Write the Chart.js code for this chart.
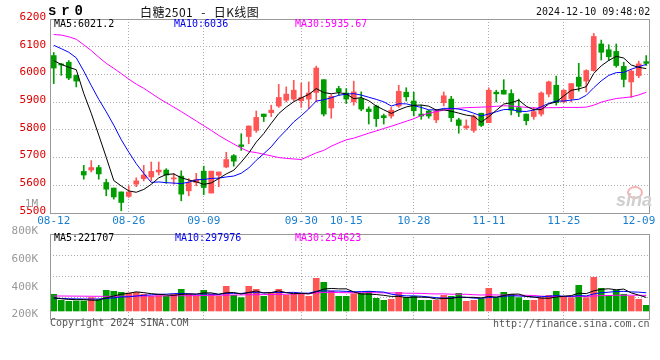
<!DOCTYPE html>
<html><head><meta charset="utf-8">
<script src="https://cdn.jsdelivr.net/npm/chart.js@4.4.1/dist/chart.umd.min.js"></script>
<style>
html,body{margin:0;padding:0;background:#fff;}
#wrap{position:relative;width:660px;height:360px;overflow:hidden;}
canvas{position:absolute;left:0;}
.t{position:absolute;white-space:pre;font-family:"DejaVu Sans Mono",monospace;font-size:10px;line-height:12px;z-index:5;}
</style></head><body>
<div id="wrap">
<canvas id="price" width="660" height="232" style="top:0"></canvas>
<canvas id="vol" width="660" height="140" style="top:190px"></canvas>
<div class="t" style="left:48px;top:3px;font-family:'Liberation Mono',monospace;font-weight:bold;font-size:14px;line-height:16px;letter-spacing:-1.8px;">s r 0</div>
<div class="t" style="left:140px;top:4px;font-family:'Noto Sans CJK SC',sans-serif;font-size:12px;line-height:16px;letter-spacing:0.4px;word-spacing:5px;color:#111;">白糖2501 - 日K线图</div>
<div class="t" style="left:536px;top:6px;color:#111;">2024-12-10 09:48:02</div>
<div class="t" style="left:54px;top:18px;color:#000;">MA5:6021.2</div>
<div class="t" style="left:174px;top:18px;color:#0000ee;">MA10:6036</div>
<div class="t" style="left:295px;top:18px;color:#ff00ff;">MA30:5935.67</div>
<div class="t" style="left:54px;top:232px;color:#000;">MA5:221707</div>
<div class="t" style="left:175px;top:232px;color:#0000ee;">MA10:297976</div>
<div class="t" style="left:295px;top:232px;color:#ff00ff;">MA30:254623</div>
<div class="t" style="left:50px;top:317px;color:#555;">Copyright 2024 SINA.COM</div>
<div class="t" style="left:493px;top:318px;color:#555;">http://finance.sina.com.cn</div>
<div style="position:absolute;left:627px;top:186px;width:12px;height:9px;border:2px solid #f4b4b4;border-radius:50%;z-index:4;"></div>
<div class="t" style="left:616px;top:191px;font-family:'Liberation Sans',sans-serif;font-style:italic;font-weight:bold;font-size:18px;line-height:18px;color:#cfcfcf;z-index:4;">sina</div>
</div>
<script>
const dates = ['08-12','08-13','08-14','08-15','08-16','08-19','08-20','08-21','08-22','08-23','08-26','08-27','08-28','08-29','08-30',
'09-02','09-03','09-04','09-05','09-06','09-09','09-10','09-11','09-12','09-13','09-18','09-19','09-20','09-23','09-24','09-25','09-26','09-27','09-30',
'10-08','10-09','10-10','10-11','10-14','10-15','10-16','10-17','10-18','10-21','10-22','10-23','10-24','10-25','10-28','10-29','10-30','10-31',
'11-01','11-04','11-05','11-06','11-07','11-08','11-11','11-12','11-13','11-14','11-15','11-18','11-19','11-20','11-21','11-22','11-25','11-26','11-27','11-28','11-29',
'12-02','12-03','12-04','12-05','12-06','12-09','12-10'];
const keyDates = ['08-12','08-26','09-09','09-30','10-15','10-28','11-11','11-25','12-09'];

const openP = [6068,6037,6044,5996,5650,5655,5664,5610,5590,5576,
5560,5604,5624,5630,5648,5655,5623,5633,5580,5610,
5651,5572,5636,5666,5707,5746,5776,5798,5857,5862,
5886,5907,5911,5905,5911,5935,5981,5879,5949,5933,
5901,5913,5875,5886,5851,5850,5886,5936,5904,5857,
5868,5836,5898,5911,5836,5807,5798,5860,5826,5936,
5943,5931,5880,5857,5848,5857,5929,5961,5901,5913,
5990,5976,6014,6110,6089,6083,6029,5973,5996,6046];
const highP = [6079,6040,6050,5998,5672,5689,5672,5622,5590,5576,
5598,5627,5672,5684,5684,5660,5643,5652,5624,5643,
5669,5651,5648,5719,5711,5786,5814,5868,5857,5889,
5964,5955,5979,5969,5973,6030,5981,5927,5957,5949,
5976,5937,5883,5889,5857,5881,5961,5952,5936,5889,
5871,5874,5937,5921,5842,5836,5854,5860,5952,5943,
5981,5945,5911,5857,5881,5937,5976,5994,5945,5967,
6040,6017,6148,6124,6107,6110,6044,6017,6048,6068];
const lowP = [5967,5997,5981,5955,5622,5648,5622,5562,5550,5508,
5556,5595,5616,5616,5637,5607,5604,5544,5562,5598,
5566,5572,5595,5663,5669,5726,5750,5791,5830,5848,
5881,5901,5905,5881,5877,5901,5850,5842,5925,5895,
5889,5869,5821,5812,5821,5842,5881,5904,5850,5838,
5842,5826,5886,5830,5788,5802,5791,5812,5826,5901,
5929,5854,5848,5818,5838,5850,5919,5889,5898,5901,
5940,5937,6012,6052,6050,6026,5955,5917,5988,6032];
const closeP = [6023,6034,5987,5976,5637,5664,5641,5586,5558,5538,
5576,5616,5637,5650,5655,5637,5626,5568,5610,5621,
5592,5651,5648,5693,5687,5740,5814,5845,5848,5871,
5917,5929,5943,5917,5933,6023,5857,5921,5937,5911,
5937,5875,5866,5840,5844,5871,5939,5919,5869,5850,
5850,5869,5923,5844,5816,5814,5848,5816,5943,5930,
5929,5871,5863,5833,5866,5933,5973,5898,5943,5967,
5957,6014,6137,6080,6064,6032,5982,6012,6038,6040];

const ma5 = [6050,6036,6026,6017,5931.4,5859.6,5781,5700.8,5617.2,5597.4,
5579.8,5574.8,5585,5603.4,5626.8,5639,5641,5627.2,5619.2,5612.4,
5603.4,5608.4,5624.4,5641,5654.2,5683.8,5716.4,5755.8,5786.8,5823.6,
5859,5882,5901.6,5915.4,5927.8,5949,5934.6,5930.2,5934.2,5929.8,
5912.6,5916.2,5905.2,5885.8,5872.4,5859.2,5872,5882.6,5888.4,5889.6,
5885.4,5871.4,5872.2,5867.2,5860.4,5853.2,5849,5827.6,5847.4,5870.2,
5893.2,5897.8,5907.2,5885.2,5872.4,5873.2,5893.6,5900.6,5922.6,5942.8,
5947.6,5955.8,6003.6,6031,6050.4,6065.4,6059,6034,6025.6,6021.2];
const ma10 = [6105,6093,6080,6060,6012,5960,5910,5865,5817,5764.4,
5719.7,5677.9,5642.9,5610.3,5612.1,5609.4,5607.9,5606.1,5611.3,5619.6,
5621.2,5624.7,5625.8,5630.1,5633.3,5643.6,5662.4,5690.1,5713.9,5738.9,
5771.4,5799.2,5828.7,5851.1,5875.7,5904,5908.3,5915.9,5924.8,5928.8,
5930.8,5925.4,5917.7,5910,5901.1,5885.9,5894.1,5893.9,5887.1,5881,
5872.3,5871.7,5877.4,5877.8,5875,5869.3,5860.2,5849.9,5857.3,5865.3,
5873.2,5873.4,5867.4,5866.3,5871.3,5883.2,5895.7,5903.9,5903.9,5907.6,
5910.4,5924.7,5952.1,5976.8,5996.6,6006.5,6007.4,6018.8,6028.3,6036];
const ma30 = [6144,6142,6136,6127,6107,6086,6062,6040,6022,6003,
5983,5965,5950,5932,5914,5898,5882,5866,5849,5832,
5815,5798,5780,5764,5749,5734,5722,5718,5712,5706,
5700,5697,5695,5693,5705,5717,5726,5741,5753,5764,
5770,5779,5788,5796,5805,5813,5822,5831,5840,5852,
5860,5866,5871,5875,5878,5880,5881,5882,5883,5885,
5887,5886,5884,5881,5879,5879,5880,5880,5881,5881,
5881,5882,5889,5900,5907,5913,5916,5919,5926,5935.67];

const volume = [273,174,158,164,164,218,185,338,322,305,
294,305,273,240,251,240,273,354,273,240,
338,273,240,403,256,218,403,354,240,294,
354,256,273,273,240,534,469,327,240,240,
283,294,322,207,174,191,305,218,240,174,
174,174,256,240,289,158,174,202,371,218,
305,273,218,174,174,218,256,322,240,218,
420,218,550,371,256,338,273,240,191,93];
const vma5 = [215,200,190,185,187,176,178,214,245,274,
289,313,300,283,273,262,255,272,278,276,
296,296,273,299,302,278,304,327,294,302,
329,300,283,290,279,315,358,369,362,362,
312,277,276,269,256,238,240,219,226,226,
222,196,204,204,227,223,223,213,239,225,
254,274,277,238,229,211,208,229,242,251,
291,284,329,355,363,347,358,296,260,222];
const vma10 = [210,205,200,198,196,195,197,205,215,230,
232,245,257,264,273,275,284,286,281,274,
279,276,272,289,289,287,300,300,297,302,
304,302,305,292,291,322,329,326,326,321,
314,317,322,316,309,275,258,247,247,241,
230,218,211,215,226,223,210,208,221,226,
239,249,245,238,227,233,241,253,240,240,
251,246,279,299,307,319,321,312,308,298];
const vma30 = [245,245,244,243,242,241,240,240,240,241,
242,243,244,245,246,247,248,249,250,252,
254,256,258,260,261,263,265,266,268,269,
271,274,278,282,284,295,304,304,301,299,
299,298,300,299,296,295,296,291,290,288,
282,279,280,274,275,273,266,261,265,262,
261,261,259,256,254,243,236,236,236,235,
240,237,245,251,253,258,257,258,256,255];
const volTickValues = [200,400,600,800,1000];

const UP = '#ff5555', DOWN = '#009c00';
const colors = closeP.map((c, i) => c >= openP[i] ? UP : DOWN);
const MONO = '"DejaVu Sans Mono", monospace';
Chart.defaults.font.family = MONO;
Chart.defaults.font.size = 10;
Chart.defaults.animation = false;

const frame = { id: 'frame', afterDraw(c) {
  const { ctx, chartArea: a } = c;
  ctx.save(); ctx.strokeStyle = '#999'; ctx.lineWidth = 1; ctx.setLineDash([]);
  ctx.strokeRect(Math.round(a.left) + 0.5, Math.round(a.top) + 0.5, Math.round(a.right - a.left) - 1, Math.round(a.bottom - a.top));
  ctx.restore();
}};
const vGrid = ctx => {
  const d = dates[ctx.index];
  return (keyDates.includes(d) && d !== keyDates[0] && d !== keyDates[keyDates.length - 1]) ? '#aaa' : 'rgba(0,0,0,0)';
};
const line = (data, color, axis) => ({ type: 'line', data, borderColor: color, borderWidth: 1, pointRadius: 0, tension: 0, order: 0, yAxisID: axis });

new Chart(document.getElementById('price'), {
  type: 'bar',
  data: { labels: dates, datasets: [
    line(ma5, '#000000', 'y'), line(ma10, '#0000ff', 'y'), line(ma30, '#ff00ff', 'y'),
    { data: lowP.map((l, i) => [l, highP[i]]), backgroundColor: colors, barThickness: 1, grouped: false, order: 2, yAxisID: 'y' },
    { data: openP.map((o, i) => [o, closeP[i]]), backgroundColor: colors, barThickness: 5, minBarLength: 1, grouped: false, order: 1, yAxisID: 'y' }
  ]},
  options: {
    responsive: false, events: [],
    plugins: { legend: { display: false }, tooltip: { enabled: false } },
    layout: { padding: { top: 19, right: 10, left: 0, bottom: 0 } },
    scales: {
      x: { offset: true,
        grid: { offset: false, drawTicks: false, color: vGrid },
        border: { display: false, dash: [1, 2] },
        ticks: { autoSkip: false, maxRotation: 0, minRotation: 0, padding: 2, color: '#1a7fd0',
          font: { size: 11 }, callback: (v, i) => keyDates.includes(dates[i]) ? dates[i] : '' },
        afterFit: s => { s.height = 19; } },
      y: { min: 5500, max: 6200,
        ticks: { stepSize: 100, color: '#dd0000', padding: 4, labelOffset: -2, font: { size: 11 },
          callback: v => String(v) },
        grid: { drawTicks: false, color: c => (c.tick.value === 5500 || c.tick.value === 6200) ? 'rgba(0,0,0,0)' : '#aaa' },
        border: { display: false, dash: [1, 2] },
        afterFit: s => { s.width = 50; } }
    }
  },
  plugins: [frame]
});

new Chart(document.getElementById('vol'), {
  type: 'bar',
  data: { labels: dates, datasets: [
    line(vma5, '#000000', 'yv'), line(vma10, '#0000ff', 'yv'), line(vma30, '#ff00ff', 'yv'),
    { data: volume, backgroundColor: colors, barThickness: 6, grouped: false, order: 1, yAxisID: 'yv' }
  ]},
  options: {
    responsive: false, events: [],
    plugins: { legend: { display: false }, tooltip: { enabled: false } },
    layout: { padding: { top: 44, right: 10, left: 0, bottom: 0 } },
    scales: {
      x: { offset: true,
        grid: { offset: false, drawTicks: false, color: vGrid },
        border: { display: false, dash: [1, 2] },
        ticks: { display: false, autoSkip: false },
        afterFit: s => { s.height = 11; } },
      yv: { display: false, min: -131, max: 1259 },
      yl: { position: 'left', min: 166, max: 782,
        afterBuildTicks: s => { s.ticks = volTickValues.map(v => ({ value: v })); },
        ticks: { color: '#999', padding: 4, font: { size: 11 },
          callback: v => v >= 1000 ? (v / 1000) + 'M' : v + 'K' },
        grid: { display: false }, border: { display: false },
        afterFit: s => { s.width = 50; } },
      yg: { position: 'right', min: 0, max: 4,
        ticks: { display: false, stepSize: 1 },
        grid: { drawTicks: false, color: c => (c.tick.value === 0 || c.tick.value === 4) ? 'rgba(0,0,0,0)' : '#aaa' },
        border: { display: false, dash: [1, 2] },
        afterFit: s => { s.width = 0; } }
    }
  },
  plugins: [frame]
});
</script>
</body></html>
